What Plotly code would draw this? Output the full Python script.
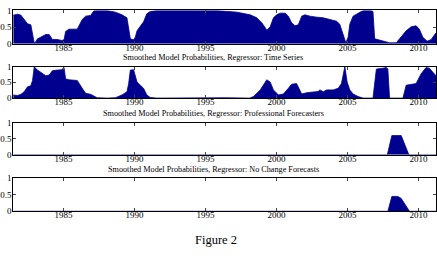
import plotly.graph_objects as go

# Panel 1 (top, title cropped)
p1_year = [1981.45, 1981.76, 1981.99, 1982.22, 1982.46, 1982.69, 1982.81, 1982.93, 1983.0, 1983.16,
           1983.39, 1983.74, 1983.98, 1984.09, 1984.21, 1984.56, 1984.86, 1985.03, 1985.14, 1985.38,
           1985.96, 1986.31, 1986.55, 1986.9, 1987.13, 1987.36, 1988.06, 1988.65, 1989.11, 1989.46,
           1989.58, 1989.7, 1989.93, 1990.05, 1990.17, 1990.4, 1990.63, 1990.86, 1991.1, 1991.56,
           1995.8, 1997.21, 1998.14, 1998.61, 1998.96, 1999.19, 1999.31, 1999.55, 1999.78, 2000.01,
           2000.25, 2000.6, 2000.83, 2001.06, 2001.3, 2001.53, 2001.77, 2002.0, 2002.35, 2002.82,
           2003.29, 2003.75, 2004.22, 2004.45, 2004.69, 2004.88, 2005.04, 2005.16, 2005.39, 2005.74,
           2006.09, 2006.67, 2006.79, 2006.91, 2007.14, 2007.49, 2007.96, 2008.43, 2008.78, 2009.13,
           2009.48, 2009.83, 2010.06, 2010.3, 2010.6, 2010.88, 2011.23]
p1_prob = [0.86, 0.89, 0.86, 0.73, 0.6, 0.57, 0.25, 0.03, 0.04, 0.15,
           0.2, 0.28, 0.28, 0.22, 0.13, 0.13, 0.1, 0.12, 0.37, 0.44,
           0.44, 0.73, 0.83, 0.85, 0.99, 1.0, 1.0, 0.95, 0.87, 0.78,
           0.49, 0.15, 0.12, 0.2, 0.39, 0.54, 0.66, 0.9, 0.97, 1.0,
           1.0, 0.95, 0.87, 0.78, 0.63, 0.49, 0.41, 0.51, 0.78, 0.87,
           0.92, 0.92, 0.83, 0.63, 0.54, 0.57, 0.83, 0.87, 0.83, 0.8,
           0.78, 0.73, 0.68, 0.59, 0.3, 0.03, 0.2, 0.59, 0.83, 0.92,
           1.0, 1.0, 0.97, 0.15, 0.125, 0.09, 0.03, 0.03, 0.2, 0.39,
           0.51, 0.54, 0.44, 0.2, 0.08, 0.125, 0.33]

# Panel 2: Time Series
p2_year = [1981.45, 1981.76, 1981.99, 1982.22, 1982.46, 1982.69, 1982.81, 1982.93, 1983.16, 1983.39,
           1983.74, 1983.98, 1984.21, 1984.56, 1984.86, 1985.03, 1985.14, 1985.38, 1985.96, 1986.31,
           1986.55, 1986.9, 1987.13, 1987.36, 1988.06, 1988.65, 1989.11, 1989.46, 1989.58, 1989.7,
           1989.93, 1990.05, 1990.17, 1990.4, 1990.63, 1990.86, 1991.1, 1991.56, 1995.8, 1996.4,
           1998.1, 1998.38, 1998.85, 1999.08, 1999.31, 1999.55, 1999.78, 2000.13, 2000.48, 2000.83,
           2001.06, 2001.41, 2001.6, 2001.77, 2002.12, 2002.58, 2002.93, 2003.05, 2003.29, 2003.52,
           2003.99, 2004.34, 2004.57, 2004.81, 2004.97, 2005.16, 2005.39, 2005.74, 2006.09, 2006.79,
           2007.03, 2007.49, 2007.73, 2007.84, 2007.96, 2008.43, 2008.9, 2009.13, 2009.48, 2009.83,
           2010.18, 2010.53, 2010.76, 2011.0, 2011.23]
p2_prob = [0.1, 0.08, 0.12, 0.2, 0.36, 0.39, 0.56, 0.99, 0.89, 0.82,
           0.71, 0.73, 0.87, 0.89, 0.9, 0.97, 0.61, 0.58, 0.56, 0.31,
           0.15, 0.12, 0.07, 0.01, 0.0, 0.01, 0.1, 0.2, 0.46, 0.89,
           0.9, 0.71, 0.51, 0.41, 0.31, 0.1, 0.02, 0.0, 0.02, 0.01,
           0.0, 0.05, 0.26, 0.41, 0.58, 0.51, 0.26, 0.1, 0.13, 0.31,
           0.44, 0.46, 0.31, 0.13, 0.17, 0.2, 0.21, 0.26, 0.2, 0.26,
           0.26, 0.31, 0.46, 1.0, 0.51, 0.26, 0.13, 0.05, 0.0, 0.0,
           0.92, 0.95, 0.97, 0.92, 0.0, 0.0, 0.0, 0.41, 0.44, 0.46,
           0.77, 0.97, 0.95, 0.82, 0.71]

# Panel 3: Professional Forecasters
p3_year = [1981.45, 2007.8, 2008.12, 2008.78, 2009.32, 2011.23]
p3_prob = [0.0, 0.0, 0.6, 0.6, 0.0, 0.0]

# Panel 4: No Change Forecasts
p4_year = [1981.45, 2007.84, 2008.12, 2008.54, 2008.78, 2009.01, 2009.25, 2009.36, 2011.23]
p4_prob = [0.0, 0.0, 0.45, 0.45, 0.39, 0.22, 0.08, 0.0, 0.0]

titles = ["",
          "Smoothed Model Probabilities, Regressor: Time Series",
          "Smoothed Model Probabilities, Regressor: Professional Forecasters",
          "Smoothed Model Probabilities, Regressor: No Change Forecasts"]
xtick_vals = [1985, 1990, 1995, 2000, 2005, 2010]
ytick_vals = [0, 0.5, 1]
ytick_text = ["0", "0.5", "1"]

H = 267.0
W = 437.0
panels_px = [(5.7, 40.3), (64.0, 96.7), (122.3, 155.7), (180.0, 214.3)]
title_px = [None, 54.5, 113.0, 171.0]

FONT = "Liberation Serif"
NAVY = "#00008F"

fig = go.Figure()
data = [(p1_year, p1_prob), (p2_year, p2_prob), (p3_year, p3_prob), (p4_year, p4_prob)]
layout = dict(width=437, height=267, margin=dict(l=0, r=0, t=0, b=0),
              paper_bgcolor="white", plot_bgcolor="white", showlegend=False,
              font=dict(family=FONT, size=9, color="black"))
annotations = []
for i, (xs, ys) in enumerate(data):
    n = "" if i == 0 else str(i + 1)
    fig.add_trace(go.Scatter(x=xs, y=ys, mode="lines", fill="tozeroy",
                             line=dict(color=NAVY, width=0.8), fillcolor=NAVY,
                             xaxis="x" + n, yaxis="y" + n, hoverinfo="skip"))
    top, bot = panels_px[i]
    layout["xaxis" + n] = dict(domain=[0.0281, 1.0], range=[1981.45, 2011.23],
                               tickvals=xtick_vals, ticks="inside", ticklen=3, tickwidth=0.8,
                               showline=True, linecolor="black", linewidth=1, mirror="ticks",
                               showgrid=False, zeroline=False, anchor="y" + n,
                               ticklabelstandoff=-5,
                               tickfont=dict(family=FONT, size=9, color="black"))
    layout["yaxis" + n] = dict(domain=[1 - bot / H, 1 - top / H], range=[0, 1],
                               tickvals=ytick_vals, ticktext=ytick_text, ticks="inside",
                               ticklen=3, tickwidth=0.8, showline=True, linecolor="black",
                               linewidth=1, mirror="ticks", showgrid=False, zeroline=False,
                               anchor="x" + n, ticklabelstandoff=-1,
                               tickfont=dict(family=FONT, size=9, color="black"))
    if titles[i]:
        annotations.append(dict(text=titles[i], x=213 / W, y=1 - title_px[i] / H,
                                xref="paper", yref="paper", showarrow=False,
                                xanchor="center", yanchor="middle",
                                font=dict(family=FONT, size=8.2, color="black")))
annotations.append(dict(text="Figure 2", x=216 / W, y=1 - 244 / H, xref="paper", yref="paper",
                        showarrow=False, xanchor="center", yanchor="middle",
                        font=dict(family=FONT, size=12.5, color="black")))
layout["annotations"] = annotations
fig.update_layout(**layout)
fig.write_html("out.html")
